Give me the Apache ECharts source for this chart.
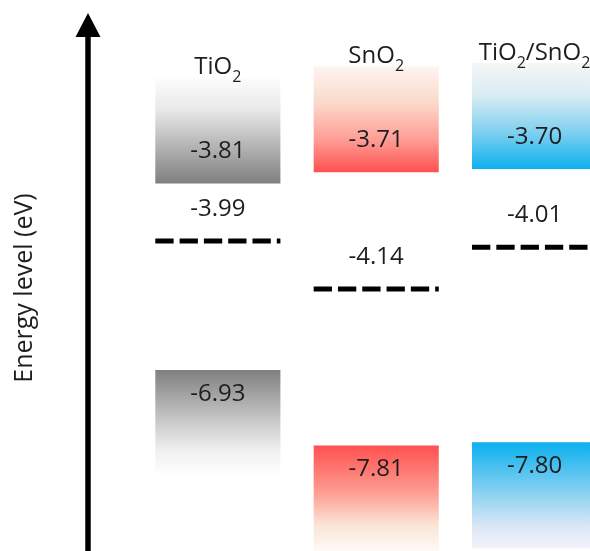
<!DOCTYPE html>
<html>
<head>
<meta charset="utf-8">
<title>Energy level diagram</title>
<script src="https://cdn.jsdelivr.net/npm/echarts@6/dist/echarts.min.js"></script>
<style>
  html, body { margin: 0; padding: 0; background: #ffffff; }
  #chart { width: 590px; height: 551px; }
</style>
</head>
<body>
<div id="chart"></div>
<script>
// Band edges and Fermi levels, in eV
const materials = ['TiO2', 'SnO2', 'TiO2/SnO2'];
const conductionBand = [-3.81, -3.71, -3.70];
const fermiLevel = [-3.99, -4.14, -4.01];
const valenceBand = [-6.93, -7.81, -7.80];

const FONT = 'Open Sans';
const TEXT_COLOR = '#1e1e1e';
const BOX_WIDTH = 0.79;   // in x-axis units (one unit per material)
const BOX_HEIGHT = 106;   // px, the fading extent of each band block

// Gradient stops per column: conduction band fades upward, valence band downward
const columnStyles = [
  {
    conduction: [[0, '#fdfdfd'], [0.3, '#e9e9e9'], [1, '#7f7f7f']],
    valence: [[0, '#7f7f7f'], [0.45, '#c4c4c4'], [0.75, '#efefef'], [1, '#ffffff']]
  },
  {
    conduction: [[0, '#fdf6f0'], [0.35, '#fbd8ca'], [0.7, '#fe9c94'], [1, '#ff5050']],
    valence: [[0, '#ff5050'], [0.45, '#fd9f92'], [0.75, '#fbe4d6'], [1, '#fefaf7']]
  },
  {
    conduction: [[0, '#f6f6f6'], [0.3, '#d9ecf3'], [0.65, '#80d0f0'], [1, '#0bb0ee']],
    valence: [[0, '#0bb0ee'], [0.5, '#8fd3f1'], [0.8, '#dde7f6'], [1, '#f3f3fb']]
  }
];

function gradient(stops) {
  return new echarts.graphic.LinearGradient(0, 0, 0, 1,
    stops.map(function (s) { return { offset: s[0], color: s[1] }; }));
}

// "TiO2" -> rich text with the digits as subscripts
function chemText(name) {
  return name.split(/(\d+)/).filter(Boolean).map(function (part) {
    return /^\d+$/.test(part) ? '{s|' + part + '}' : '{n|' + part + '}';
  }).join('');
}

// both tokens get the same box height; padding shifts the subscript down
const nameRich = {
  n: { fontFamily: FONT, fontSize: 24, lineHeight: 24, padding: [0, 0, 6, 0], fill: TEXT_COLOR },
  s: { fontFamily: FONT, fontSize: 16, lineHeight: 16, padding: [14, 0, 0, 0], fill: TEXT_COLOR }
};

function valueText(x, y, v) {
  return {
    type: 'text',
    style: {
      text: v.toFixed(2), x: x, y: y,
      align: 'center', verticalAlign: 'middle',
      fontFamily: FONT, fontSize: 24, fill: TEXT_COLOR
    }
  };
}

function renderConduction(params, api) {
  const idx = api.value(0);
  const val = api.value(1);
  const p = api.coord([idx, val]);
  const w = api.size([BOX_WIDTH, 0])[0];
  return {
    type: 'group',
    children: [
      {
        type: 'rect',
        shape: { x: p[0] - w / 2, y: p[1] - BOX_HEIGHT, width: w, height: BOX_HEIGHT },
        style: { fill: gradient(columnStyles[idx].conduction) }
      },
      valueText(p[0], p[1] - 32, val),
      {
        type: 'text',
        style: {
          text: chemText(materials[idx]), rich: nameRich,
          x: p[0], y: p[1] - BOX_HEIGHT - 7,
          align: 'center', verticalAlign: 'middle'
        }
      }
    ]
  };
}

function renderValence(params, api) {
  const idx = api.value(0);
  const val = api.value(1);
  const p = api.coord([idx, val]);
  const w = api.size([BOX_WIDTH, 0])[0];
  return {
    type: 'group',
    children: [
      {
        type: 'rect',
        shape: { x: p[0] - w / 2, y: p[1], width: w, height: BOX_HEIGHT },
        style: { fill: gradient(columnStyles[idx].valence) }
      },
      valueText(p[0], p[1] + 24, val)
    ]
  };
}

function renderFermi(params, api) {
  const idx = api.value(0);
  const val = api.value(1);
  const p = api.coord([idx, val]);
  const w = api.size([BOX_WIDTH, 0])[0];
  return {
    type: 'group',
    children: [
      {
        type: 'line',
        shape: { x1: p[0] - w / 2, y1: p[1], x2: p[0] + w / 2, y2: p[1] },
        style: { stroke: '#000000', lineWidth: 5, lineDash: [18.3, 6], lineCap: 'butt' }
      },
      valueText(p[0], p[1] - 32, val)
    ]
  };
}

function seriesData(values) {
  return values.map(function (v, i) { return [i, v]; });
}

const chart = echarts.init(document.getElementById('chart'), null, { renderer: 'canvas' });

chart.setOption({
  animation: false,
  backgroundColor: '#ffffff',
  grid: { left: 88, right: 0, top: 25, bottom: 0 },
  xAxis: { type: 'value', min: -0.82, max: 2.35, show: false },
  yAxis: [
    {
      // schematic energy scale: empty stretches between the levels are compressed
      type: 'value',
      min: -8.14,
      max: -3.25,
      show: false,
      breaks: [
        { start: -7.77, end: -6.96, gap: 0.166 },
        { start: -6.9, end: -4.2, gap: 0.163 },
        { start: -3.80, end: -3.72, gap: 0.015 }
      ],
      breakArea: { show: false }
    },
    {
      type: 'value',
      min: 0,
      max: 1,
      position: 'left',
      name: 'Energy level (eV)',
      nameLocation: 'middle',
      nameRotate: 90,
      nameGap: 51,
      nameTextStyle: { fontFamily: FONT, fontSize: 25, color: TEXT_COLOR },
      axisLine: {
        show: true,
        onZero: false,
        symbol: ['none', 'triangle'],
        symbolSize: [25, 24],
        lineStyle: { color: '#000000', width: 5.5 }
      },
      axisTick: { show: false },
      axisLabel: { show: false },
      splitLine: { show: false }
    }
  ],
  series: [
    { name: 'Conduction band', type: 'custom', yAxisIndex: 0, renderItem: renderConduction, data: seriesData(conductionBand) },
    { name: 'Fermi level', type: 'custom', yAxisIndex: 0, renderItem: renderFermi, data: seriesData(fermiLevel) },
    { name: 'Valence band', type: 'custom', yAxisIndex: 0, renderItem: renderValence, data: seriesData(valenceBand) }
  ]
});
</script>
</body>
</html>
